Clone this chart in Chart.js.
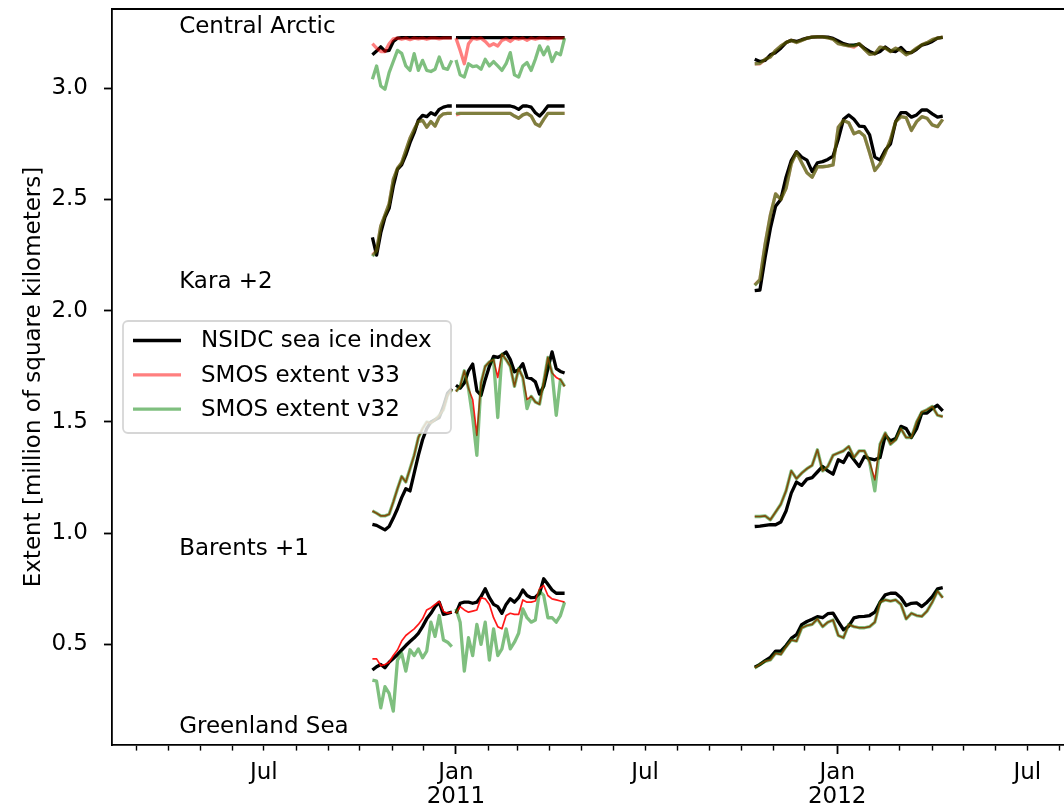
<!DOCTYPE html>
<html>
<head>
<meta charset="utf-8">
<script src="https://cdn.jsdelivr.net/npm/chart.js@4.4.0/dist/chart.umd.min.js"></script>
<style>
  html, body { margin: 0; padding: 0; background: #fff; overflow: hidden; }
</style>
</head>
<body>
<canvas id="myChartExtent" width="1064" height="809"></canvas>
<script>
// x values are days counted from 2011-01-01
const days1 = [-80, -76, -72, -68, -64, -60, -56, -52, -48, -44, -40, -36, -32, -28, -24, -20, -16, -12, -8, -4, -2,
    0, 4, 8, 12, 16, 20, 24, 28, 32, 36, 40, 44, 48, 52, 56, 60, 64, 68, 72, 76, 80, 84, 88, 92, 96, 100, 104];
const days2 = [286, 291, 296, 301, 306, 311, 316, 321, 326, 331, 336, 341, 346, 351, 356, 361, 366, 371, 376, 381,
    386, 391, 396, 401, 406, 411, 416, 421, 426, 431, 436, 441, 446, 451, 456, 461, 466];

const seriesNames = ['NSIDC sea ice index', 'SMOS extent v33', 'SMOS extent v32'];
const regionNames = ['Greenland Sea', 'Barents +1', 'Kara +2', 'Central Arctic'];
const regionOffsets = [0, 1, 2, 0];
const labelDay = -265;
const labelLevels = [0.1, 0.9, 2.1, 3.25];
const yTicks = [0.5, 1.0, 1.5, 2.0, 2.5, 3.0];

// Greenland Sea
const grNsidc1 = [0.385, 0.40, 0.41, 0.395, 0.42, 0.437, 0.455, 0.475, 0.495, 0.513, 0.53, 0.55, 0.58, 0.615, 0.64, 0.67, 0.69, 0.635, 0.64, 0.645, null,
    0.64, 0.685, 0.69, 0.69, 0.685, 0.69, 0.715, 0.75, 0.71, 0.68, 0.67, 0.64, 0.68, 0.705, 0.69, 0.71, 0.745, 0.72, 0.71, 0.712, 0.73, 0.795, 0.77, 0.745, 0.73, 0.73, 0.73];
const grV33_1 = [0.435, 0.435, 0.405, 0.41, 0.42, 0.45, 0.475, 0.515, 0.54, 0.555, 0.57, 0.59, 0.615, 0.655, 0.665, 0.68, 0.693, 0.648, 0.64, 0.645, null,
    0.64, 0.67, 0.655, 0.645, 0.65, 0.655, 0.71, 0.705, 0.68, 0.62, 0.58, 0.57, 0.63, 0.64, 0.635, 0.635, 0.70, 0.69, 0.69, 0.695, 0.75, 0.765, 0.72, 0.705, 0.70, 0.695, 0.69];
const grV32_1 = [0.34, 0.335, 0.215, 0.31, 0.28, 0.20, 0.43, 0.46, 0.38, 0.476, 0.45, 0.48, 0.44, 0.47, 0.60, 0.536, 0.63, 0.52, 0.51, 0.49, null,
    0.66, 0.60, 0.38, 0.53, 0.45, 0.59, 0.50, 0.60, 0.43, 0.57, 0.45, 0.48, 0.57, 0.48, 0.51, 0.55, 0.66, 0.62, 0.60, 0.61, 0.74, 0.72, 0.62, 0.62, 0.60, 0.63, 0.69];
const grNsidc2 = [0.398, 0.41, 0.427, 0.442, 0.47, 0.47, 0.495, 0.527, 0.544, 0.589, 0.603, 0.613, 0.625, 0.62, 0.638, 0.641, 0.603, 0.566, 0.582, 0.619,
    0.625, 0.626, 0.63, 0.645, 0.69, 0.723, 0.73, 0.73, 0.71, 0.675, 0.685, 0.687, 0.67, 0.69, 0.715, 0.75, 0.755];
const grV33_2 = [0.395, 0.41, 0.425, 0.43, 0.46, 0.455, 0.49, 0.52, 0.515, 0.574, 0.585, 0.59, 0.615, 0.58, 0.60, 0.61, 0.54, 0.53, 0.59, 0.58,
    0.575, 0.575, 0.58, 0.60, 0.69, 0.70, 0.695, 0.70, 0.68, 0.615, 0.64, 0.63, 0.626, 0.65, 0.69, 0.74, 0.71];
const grV32_2 = [0.394, 0.41, 0.424, 0.43, 0.46, 0.456, 0.49, 0.52, 0.515, 0.574, 0.585, 0.59, 0.614, 0.58, 0.60, 0.61, 0.54, 0.53, 0.59, 0.58,
    0.575, 0.575, 0.58, 0.60, 0.69, 0.70, 0.695, 0.70, 0.68, 0.615, 0.64, 0.63, 0.626, 0.65, 0.69, 0.74, 0.71];

// Barents (plotted +1)
const baNsidc1 = [0.04, 0.035, 0.025, 0.015, 0.03, 0.068, 0.11, 0.16, 0.20, 0.19, 0.27, 0.35, 0.42, 0.47, 0.50, 0.51, 0.52, 0.57, 0.63, 0.65, null,
    0.665, 0.652, 0.675, 0.73, 0.76, 0.64, 0.62, 0.69, 0.75, 0.795, 0.79, 0.80, 0.814, 0.78, 0.725, 0.735, 0.762, 0.70, 0.695, 0.68, 0.625, 0.66, 0.74, 0.815, 0.74, 0.727, 0.72];
const baV33_1 = [0.10, 0.09, 0.078, 0.078, 0.085, 0.14, 0.20, 0.255, 0.23, 0.29, 0.35, 0.43, 0.47, 0.50, 0.495, 0.51, 0.53, 0.555, 0.62, 0.645, null,
    0.637, 0.66, 0.73, 0.65, 0.60, 0.44, 0.675, 0.75, 0.77, 0.78, 0.70, 0.805, 0.78, 0.75, 0.66, 0.74, 0.70, 0.60, 0.615, 0.59, 0.58, 0.68, 0.79, 0.72, 0.70, 0.69, 0.66];
const baV32_1 = [0.10, 0.09, 0.078, 0.078, 0.085, 0.14, 0.20, 0.255, 0.23, 0.29, 0.35, 0.43, 0.47, 0.50, 0.495, 0.51, 0.53, 0.555, 0.62, 0.645, null,
    0.637, 0.66, 0.73, 0.65, 0.52, 0.35, 0.675, 0.75, 0.77, 0.78, 0.52, 0.805, 0.78, 0.75, 0.66, 0.74, 0.70, 0.56, 0.615, 0.59, 0.58, 0.68, 0.79, 0.72, 0.53, 0.69, 0.66];
const baNsidc2 = [0.03, 0.032, 0.035, 0.038, 0.038, 0.05, 0.10, 0.18, 0.23, 0.215, 0.243, 0.25, 0.275, 0.30, 0.28, 0.265, 0.33, 0.318, 0.36, 0.33,
    0.30, 0.345, 0.335, 0.33, 0.34, 0.44, 0.415, 0.425, 0.48, 0.47, 0.43, 0.47, 0.54, 0.54, 0.56, 0.575, 0.55];
const baV33_2 = [0.075, 0.075, 0.078, 0.06, 0.095, 0.13, 0.19, 0.28, 0.245, 0.27, 0.29, 0.305, 0.375, 0.28, 0.30, 0.35, 0.36, 0.37, 0.39, 0.34,
    0.37, 0.37, 0.32, 0.24, 0.40, 0.45, 0.40, 0.42, 0.47, 0.43, 0.43, 0.50, 0.545, 0.555, 0.57, 0.53, 0.524];
const baV32_2 = [0.075, 0.075, 0.078, 0.06, 0.095, 0.13, 0.19, 0.28, 0.245, 0.27, 0.29, 0.305, 0.375, 0.28, 0.30, 0.35, 0.36, 0.37, 0.39, 0.34,
    0.37, 0.37, 0.32, 0.19, 0.40, 0.45, 0.40, 0.42, 0.47, 0.43, 0.43, 0.50, 0.545, 0.555, 0.57, 0.53, 0.524];

// Kara (plotted +2)
const kaNsidc1 = [0.33, 0.25, 0.35, 0.42, 0.46, 0.56, 0.635, 0.655, 0.70, 0.755, 0.80, 0.857, 0.878, 0.872, 0.89, 0.88, 0.905, 0.915, 0.92, 0.92, null,
    0.92, 0.92, 0.92, 0.92, 0.92, 0.92, 0.92, 0.92, 0.92, 0.92, 0.92, 0.92, 0.92, 0.92, 0.915, 0.905, 0.92, 0.92, 0.915, 0.89, 0.875, 0.895, 0.92, 0.92, 0.92, 0.92, 0.92];
const kaV33_1 = [0.25, 0.27, 0.38, 0.43, 0.48, 0.59, 0.64, 0.665, 0.72, 0.775, 0.815, 0.85, 0.855, 0.825, 0.85, 0.83, 0.87, 0.885, 0.887, 0.887, null,
    0.88, 0.887, 0.887, 0.887, 0.887, 0.887, 0.887, 0.887, 0.887, 0.887, 0.887, 0.887, 0.887, 0.887, 0.875, 0.865, 0.88, 0.887, 0.875, 0.84, 0.83, 0.86, 0.887, 0.887, 0.887, 0.887, 0.887];
const kaV32_1 = [0.245, 0.27, 0.38, 0.43, 0.48, 0.59, 0.64, 0.665, 0.72, 0.775, 0.815, 0.85, 0.855, 0.825, 0.85, 0.83, 0.87, 0.885, 0.887, 0.887, null,
    0.887, 0.887, 0.887, 0.887, 0.887, 0.887, 0.887, 0.887, 0.887, 0.887, 0.887, 0.887, 0.887, 0.887, 0.875, 0.865, 0.88, 0.887, 0.875, 0.84, 0.83, 0.86, 0.887, 0.887, 0.887, 0.887, 0.887];
const kaNsidc2 = [0.09, 0.093, 0.24, 0.37, 0.47, 0.50, 0.60, 0.675, 0.715, 0.69, 0.677, 0.625, 0.665, 0.67, 0.68, 0.695, 0.77, 0.86, 0.88, 0.86,
    0.83, 0.827, 0.79, 0.69, 0.677, 0.722, 0.75, 0.85, 0.89, 0.89, 0.87, 0.88, 0.902, 0.902, 0.885, 0.87, 0.875];
const kaV33_2 = [0.116, 0.14, 0.30, 0.43, 0.525, 0.50, 0.55, 0.66, 0.712, 0.665, 0.62, 0.60, 0.647, 0.647, 0.65, 0.655, 0.825, 0.855, 0.845, 0.795,
    0.805, 0.785, 0.71, 0.63, 0.66, 0.71, 0.77, 0.85, 0.872, 0.868, 0.81, 0.85, 0.872, 0.865, 0.835, 0.827, 0.86];
const kaV32_2 = [0.114, 0.14, 0.30, 0.43, 0.525, 0.50, 0.55, 0.66, 0.712, 0.665, 0.62, 0.60, 0.647, 0.647, 0.65, 0.655, 0.825, 0.855, 0.845, 0.795,
    0.805, 0.785, 0.71, 0.63, 0.66, 0.71, 0.77, 0.85, 0.872, 0.868, 0.81, 0.85, 0.872, 0.865, 0.835, 0.827, 0.86];

// Central Arctic
const caNsidc1 = [3.15, 3.167, 3.186, 3.167, 3.17, 3.21, 3.225, 3.227, 3.227, 3.227, 3.227, 3.227, 3.227, 3.227, 3.227, 3.227, 3.227, 3.227, 3.227, 3.227, null,
    3.227, 3.227, 3.227, 3.227, 3.227, 3.227, 3.227, 3.227, 3.227, 3.227, 3.227, 3.227, 3.227, 3.227, 3.227, 3.227, 3.227, 3.227, 3.227, 3.227, 3.227, 3.227, 3.227, 3.227, 3.227, 3.227, 3.227];
const caV33_1 = [3.20, 3.18, 3.165, 3.165, 3.20, 3.222, 3.225, 3.22, 3.225, 3.218, 3.225, 3.222, 3.225, 3.22, 3.225, 3.225, 3.222, 3.225, 3.225, 3.225, null,
    3.225, 3.17, 3.11, 3.20, 3.225, 3.22, 3.225, 3.21, 3.19, 3.20, 3.19, 3.215, 3.222, 3.21, 3.225, 3.22, 3.225, 3.215, 3.225, 3.22, 3.225, 3.225, 3.222, 3.225, 3.225, 3.225, 3.225];
const caV32_1 = [3.04, 3.10, 3.01, 2.995, 3.07, 3.12, 3.17, 3.157, 3.10, 3.08, 3.155, 3.08, 3.125, 3.08, 3.075, 3.085, 3.14, 3.09, 3.085, 3.125, null,
    3.127, 3.06, 3.05, 3.11, 3.097, 3.10, 3.085, 3.13, 3.10, 3.12, 3.10, 3.08, 3.11, 3.16, 3.06, 3.05, 3.10, 3.115, 3.08, 3.13, 3.19, 3.15, 3.185, 3.12, 3.16, 3.15, 3.225];
const caNsidc2 = [3.13, 3.12, 3.125, 3.15, 3.16, 3.18, 3.205, 3.215, 3.21, 3.218, 3.225, 3.23, 3.231, 3.231, 3.23, 3.224, 3.212, 3.20, 3.194, 3.194,
    3.198, 3.18, 3.165, 3.155, 3.165, 3.185, 3.168, 3.165, 3.183, 3.16, 3.16, 3.175, 3.194, 3.20, 3.21, 3.225, 3.229];
const caV33_2 = [3.11, 3.11, 3.13, 3.14, 3.17, 3.19, 3.205, 3.215, 3.205, 3.215, 3.225, 3.23, 3.231, 3.231, 3.226, 3.22, 3.20, 3.195, 3.19, 3.185,
    3.20, 3.175, 3.152, 3.155, 3.185, 3.18, 3.165, 3.18, 3.17, 3.15, 3.162, 3.18, 3.195, 3.205, 3.218, 3.225, 3.23];
const caV32_2 = [3.11, 3.112, 3.13, 3.14, 3.17, 3.19, 3.205, 3.215, 3.205, 3.215, 3.225, 3.23, 3.231, 3.231, 3.226, 3.22, 3.20, 3.195, 3.19, 3.19,
    3.20, 3.175, 3.152, 3.155, 3.185, 3.18, 3.165, 3.18, 3.17, 3.15, 3.162, 3.18, 3.195, 3.205, 3.218, 3.225, 3.23];

const regionSeries = [
    [[grNsidc1, grNsidc2], [grV33_1, grV33_2], [grV32_1, grV32_2]],
    [[baNsidc1, baNsidc2], [baV33_1, baV33_2], [baV32_1, baV32_2]],
    [[kaNsidc1, kaNsidc2], [kaV33_1, kaV33_2], [kaV32_1, kaV32_2]],
    [[caNsidc1, caNsidc2], [caV33_1, caV33_2], [caV32_1, caV32_2]]
];

const xMin = -329.3;
const xMax = 582.1;
const FONT = 'DejaVu Sans';
Chart.defaults.font.family = FONT;

function dayNumber(y, m) {
    return (Date.UTC(y, m, 1) - Date.UTC(2011, 0, 1)) / 86400000;
}

const monthTicks = [];
for (let y = 2010; y <= 2012; y++) {
    for (let m = 0; m < 12; m++) {
        let d = dayNumber(y, m);
        if (d > xMin && d < xMax) monthTicks.push({ value: d, month: m, year: y });
    }
}
function tickInfo(v) {
    return monthTicks.find(t => Math.abs(t.value - v) < 0.01);
}

function buildPoints(s1, s2, offset) {
    let pts = [];
    days1.forEach((d, i) => pts.push({ x: d, y: s1[i] === null ? null : s1[i] + offset }));
    pts.push({ x: 200, y: null });
    days2.forEach((d, i) => pts.push({ x: d, y: s2[i] + offset }));
    return pts;
}

function lineStyle(series, region) {
    if (series === 0) return { color: '#000000', width: 3.3, order: 3 };
    if (series === 1) {
        if (region < 2) return { color: 'rgba(255,0,0,0.9)', width: 1.7, order: 2 };
        return { color: 'rgba(255,0,0,0.5)', width: 3.3, order: 2 };
    }
    return { color: 'rgba(0,128,0,0.5)', width: 3.3, order: 1 };
}

let datasets = [];
regionSeries.forEach((reg, r) => {
    reg.forEach((pair, s) => {
        let st = lineStyle(s, r);
        datasets.push({
            label: seriesNames[s],
            data: buildPoints(pair[0], pair[1], regionOffsets[r]),
            borderColor: st.color,
            borderWidth: st.width,
            order: st.order,
            pointRadius: 0,
            tension: 0,
            fill: false,
            spanGaps: false,
            borderJoinStyle: 'round'
        });
    });
});

const legendStyles = [lineStyle(0, 3), lineStyle(1, 3), lineStyle(2, 3)];

const framePlugin = {
    id: 'framePlugin',
    afterDatasetsDraw(chart) {
        const ctx = chart.ctx;
        const a = chart.chartArea;
        const xs = chart.scales.x, ys = chart.scales.y;
        ctx.save();
        // top spine
        ctx.strokeStyle = '#000';
        ctx.lineWidth = 1.8;
        ctx.beginPath();
        ctx.moveTo(a.left, a.top);
        ctx.lineTo(a.right, a.top);
        ctx.stroke();

        // region labels
        ctx.fillStyle = '#000';
        ctx.font = '23px "' + FONT + '"';
        ctx.textBaseline = 'alphabetic';
        ctx.textAlign = 'left';
        regionNames.forEach((name, i) => {
            ctx.fillText(name, xs.getPixelForValue(labelDay), ys.getPixelForValue(labelLevels[i]));
        });

        // legend
        const w = 328, h = 112;
        const x0 = a.left + 11;
        const y0 = (a.top + a.bottom) / 2 - h / 2;
        ctx.beginPath();
        ctx.roundRect(x0, y0, w, h, 5);
        ctx.fillStyle = 'rgba(255,255,255,0.8)';
        ctx.fill();
        ctx.strokeStyle = 'rgba(204,204,204,0.8)';
        ctx.lineWidth = 1.8;
        ctx.stroke();
        seriesNames.forEach((name, i) => {
            const ly = y0 + 19.5 + i * 34.3;
            ctx.beginPath();
            ctx.moveTo(x0 + 10, ly);
            ctx.lineTo(x0 + 58, ly);
            ctx.strokeStyle = legendStyles[i].color;
            ctx.lineWidth = 3.3;
            ctx.stroke();
            ctx.fillStyle = '#000';
            ctx.textBaseline = 'middle';
            ctx.fillText(name, x0 + 78, ly + 1);
        });
        ctx.restore();
    }
};

const myChartExtent = new Chart(document.getElementById('myChartExtent'), {
    type: 'line',
    data: { datasets: datasets },
    options: {
        responsive: false,
        animation: false,
        layout: { padding: { top: 9, right: 0, left: 0, bottom: 0 } },
        plugins: {
            legend: { display: false },
            tooltip: { enabled: false }
        },
        scales: {
            x: {
                type: 'linear',
                min: xMin,
                max: xMax,
                afterBuildTicks: (scale) => {
                    scale.ticks = monthTicks.map(t => ({ value: t.value }));
                },
                afterFit: (scale) => {
                    scale.height = 64;
                    scale.paddingLeft = 0;
                    scale.paddingRight = 0;
                },
                ticks: {
                    autoSkip: false,
                    maxRotation: 0,
                    minRotation: 0,
                    padding: 7,
                    color: '#000',
                    font: { size: 23, lineHeight: 1.05 },
                    callback: (v) => {
                        let t = tickInfo(v);
                        if (!t) return '';
                        if (t.month === 0) return ['Jan', String(t.year)];
                        if (t.month === 6) return 'Jul';
                        return '';
                    }
                },
                grid: {
                    drawOnChartArea: false,
                    tickLength: 9,
                    tickColor: '#000',
                    tickWidth: (ctx) => {
                        let t = ctx.tick ? tickInfo(ctx.tick.value) : null;
                        return t && t.month === 0 ? 1.8 : 1.4;
                    },
                    tickBorderDash: (ctx) => {
                        let t = ctx.tick ? tickInfo(ctx.tick.value) : null;
                        return t && t.month === 0 ? [] : [4.8, 40];
                    }
                },
                border: { color: '#000', width: 1.8 }
            },
            y: {
                type: 'linear',
                min: 0.048,
                max: 3.356,
                afterBuildTicks: (scale) => {
                    scale.ticks = yTicks.map(v => ({ value: v }));
                },
                afterFit: (scale) => {
                    scale.width = 112;
                    scale.paddingTop = 0;
                    scale.paddingBottom = 0;
                },
                ticks: {
                    padding: 16,
                    color: '#000',
                    font: { size: 23 },
                    callback: (v) => Number(v).toFixed(1)
                },
                grid: {
                    drawOnChartArea: false,
                    tickLength: 8,
                    tickColor: '#000',
                    tickWidth: 1.8
                },
                border: { color: '#000', width: 1.8 },
                title: {
                    display: true,
                    text: 'Extent [million of square kilometers]',
                    color: '#000',
                    font: { size: 23 },
                    padding: { top: 20, bottom: 0 }
                }
            }
        }
    },
    plugins: [framePlugin]
});
</script>
</body>
</html>
